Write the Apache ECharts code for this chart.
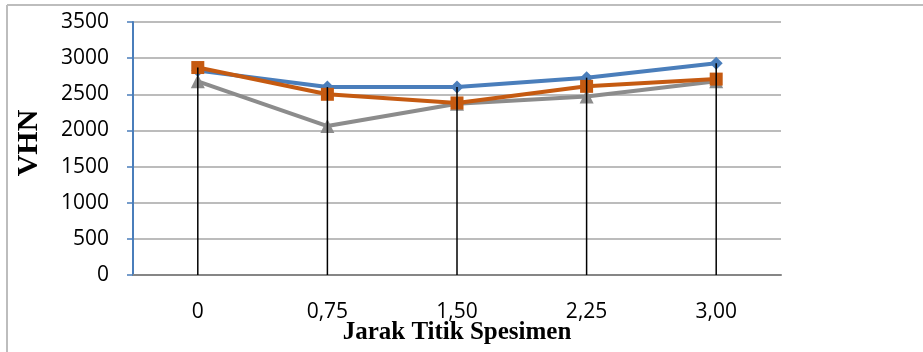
<!DOCTYPE html>
<html>
<head>
<meta charset="utf-8">
<script src="https://cdn.jsdelivr.net/npm/echarts@6/dist/echarts.min.js"></script>
<style>
html,body{margin:0;padding:0;background:#fff;}
#chart{width:923px;height:352px;}
</style>
</head>
<body>
<div id="chart"></div>
<script>
const categories = ['0', '0,75', '1,50', '2,25', '3,00'];
const seriesBlue = [2830, 2600, 2600, 2730, 2930];
const seriesOrange = [2870, 2500, 2380, 2610, 2710];
const seriesGray = [2680, 2060, 2370, 2470, 2680];
const yTicks = { min: 0, max: 3500, interval: 500 };
const yTitle = 'VHN';
const xTitle = 'Jarak Titik Spesimen';

const dropData = categories.map((c, i) => [i, Math.max(seriesBlue[i], seriesOrange[i], seriesGray[i])]);

const chart = echarts.init(document.getElementById('chart'), null, { renderer: 'canvas' });
const lab = { fontFamily: 'Open Sans', fontSize: 21, color: '#000' };
chart.setOption({
  animation: false,
  backgroundColor: '#fff',
  graphic: [
    { type: 'line', shape: { x1: 7, y1: 5, x2: 923, y2: 5 }, style: { stroke: '#bdbdbd', lineWidth: 2 } },
    { type: 'line', shape: { x1: 7, y1: 5, x2: 7, y2: 352 }, style: { stroke: '#bdbdbd', lineWidth: 2 } },
    { type: 'text', x: 457, y: 333, style: { text: xTitle, font: 'bold 25px "Liberation Serif"', fill: '#000', textAlign: 'center', textVerticalAlign: 'middle' } },
    { type: 'text', x: 29, y: 143, rotation: Math.PI / 2, style: { text: yTitle, font: 'bold 30px "Liberation Serif"', fill: '#000', textAlign: 'center', textVerticalAlign: 'middle' } }
  ],
  grid: { left: 133, right: 142, top: 22, bottom: 77, containLabel: false, outerBoundsMode: 'none' },
  xAxis: {
    type: 'category',
    data: categories,
    boundaryGap: true,
    axisLine: { lineStyle: { color: '#868686', width: 2 } },
    axisTick: { show: false },
    axisLabel: Object.assign({ margin: 27 }, lab),
  },
  yAxis: {
    type: 'value',
    min: yTicks.min, max: yTicks.max, interval: yTicks.interval,
    axisLine: { show: true, lineStyle: { color: '#4a7ebb', width: 2 } },
    axisTick: { show: true, length: 6, lineStyle: { color: '#4a7ebb', width: 1.5 } },
    axisLabel: Object.assign({ margin: 24, formatter: function (v) { return String(v); } }, lab),
    splitLine: { lineStyle: { color: '#a6a6a6', width: 1.5 } },
  },
  series: [
    { type: 'line', data: seriesBlue, symbol: 'diamond', symbolSize: 13, lineStyle: { color: '#4a7ebb', width: 4 }, itemStyle: { color: '#4a7ebb' }, z: 3 },
    { type: 'line', data: seriesOrange, symbol: 'rect', symbolSize: 13, lineStyle: { color: '#c55a11', width: 4 }, itemStyle: { color: '#c55a11' }, z: 4 },
    { type: 'line', data: seriesGray, symbol: 'triangle', symbolSize: 14, lineStyle: { color: '#8c8c8c', width: 4 }, itemStyle: { color: '#8c8c8c' }, z: 2 },
    {
      type: 'custom', data: dropData, z: 10, silent: true,
      renderItem: function (params, api) {
        const top = api.coord([api.value(0), api.value(1)]);
        const bot = api.coord([api.value(0), 0]);
        return { type: 'line', shape: { x1: top[0], y1: top[1], x2: bot[0], y2: bot[1] }, style: { stroke: '#000', lineWidth: 1.5 } };
      }
    }
  ]
});
</script>
</body>
</html>
